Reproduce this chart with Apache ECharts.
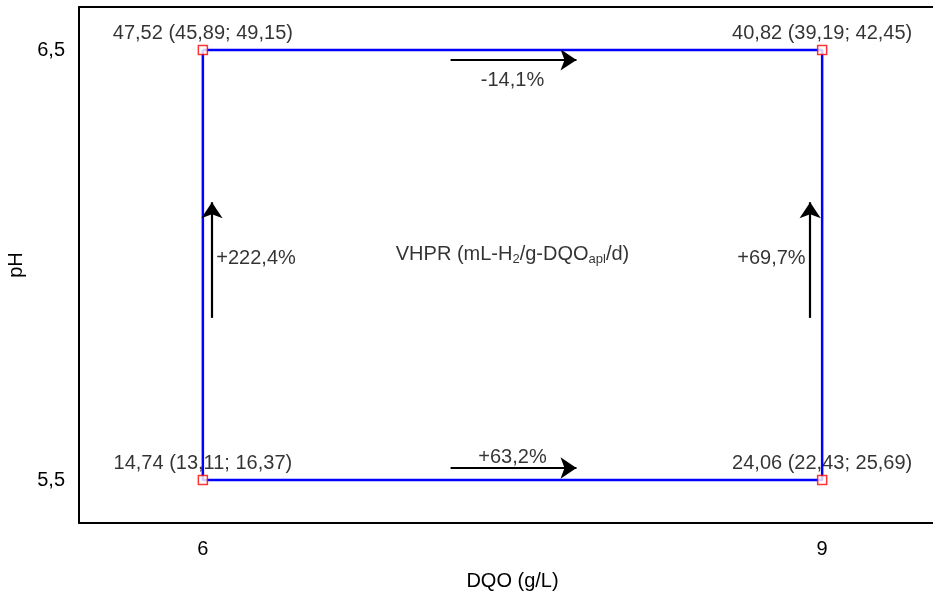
<!DOCTYPE html>
<html>
<head>
<meta charset="utf-8">
<script src="https://cdn.jsdelivr.net/npm/echarts@6/dist/echarts.min.js"></script>
<style>html,body{margin:0;padding:0;background:#fff;overflow:hidden;width:933px;height:594px}#c{width:980px;height:594px}</style>
</head>
<body>
<div id="c"></div>
<script>
// Data
const dqo = [6, 9, 9, 6];
const ph = [6.5, 6.5, 5.5, 5.5];
const vhpr = [47.52, 40.82, 24.06, 14.74];
const lowerCI = [45.89, 39.19, 22.43, 13.11];
const upperCI = [49.15, 42.45, 25.69, 16.37];
const xTicks = [6, 9];
const yTicks = [5.5, 6.5];
// arrows: [x0, y0, x1, y1] in data units
const arrows = [
  [7.2, 6.477, 7.81, 6.477],
  [7.2, 5.528, 7.81, 5.528],
  [6.044, 5.877, 6.044, 6.146],
  [8.942, 5.877, 8.942, 6.146]
];
const arrowTexts = ['-14,1%', '+63,2%', '+222,4%', '+69,7%'];
const arrowTextPos = [[7.5, 6.43], [7.5, 5.553], [6.065, 6.015], [8.92, 6.015]];

const fmt = v => v.toFixed(2).replace('.', ',');
const fmtTick = v => String(v).replace('.', ',');
const font = 'Liberation Sans, Arial, sans-serif';
const txt = '#000';
const fs = 20;

const pathPts = [0, 1, 2, 3, 0].map(i => [dqo[i], ph[i]]);
const ptData = dqo.map((x, i) => ({
  value: [x, ph[i]],
  label: { formatter: fmt(vhpr[i]) + ' (' + fmt(lowerCI[i]) + '; ' + fmt(upperCI[i]) + ')' }
}));

const frameLine = { show: true, onZero: false, lineStyle: { color: '#000', width: 2 } };

const chart = echarts.init(document.getElementById('c'));
chart.setOption({
  animation: false,
  grid: { left: 79, top: 7, width: 867, height: 516, show: false,
          outerBoundsMode: 'none', containLabel: false },
  xAxis: [{
    type: 'value', min: 5.4, max: 9.6, interval: 0.6, position: 'bottom',
    name: 'DQO (g/L)', nameLocation: 'middle', nameGap: 48,
    nameTextStyle: { fontFamily: font, fontSize: fs, color: txt },
    axisLine: frameLine, axisTick: { show: false }, splitLine: { show: false },
    axisLabel: { customValues: xTicks, formatter: fmtTick, fontFamily: font, fontSize: fs, color: txt, margin: 16 }
  }, {
    type: 'value', min: 5.4, max: 9.6, position: 'top',
    axisLine: frameLine, axisTick: { show: false }, splitLine: { show: false }, axisLabel: { show: false }
  }],
  yAxis: {
    type: 'value', min: 5.4, max: 6.6, interval: 0.6,
    name: 'pH', nameLocation: 'middle', nameGap: 51,
    nameTextStyle: { fontFamily: font, fontSize: fs, color: txt },
    axisLine: frameLine, axisTick: { show: false }, splitLine: { show: false },
    axisLabel: { customValues: yTicks, formatter: fmtTick, fontFamily: font, fontSize: fs, color: txt, margin: 14 }
  },
  series: [
    {
      type: 'line', data: pathPts, symbol: 'none',
      lineStyle: { color: '#0000ff', width: 2.5 }, z: 2
    },
    {
      type: 'lines', coordinateSystem: 'cartesian2d', polyline: false,
      data: arrows.map(a => ({ coords: [[a[0], a[1]], [a[2], a[3]]] })),
      symbol: ['none', 'arrow'], symbolSize: [8, 16],
      lineStyle: { color: '#000', width: 2.2, opacity: 1 }, z: 3
    },
    {
      type: 'scatter', data: ptData, symbol: 'rect', symbolSize: 9,
      itemStyle: { color: '#fff', borderColor: '#ff0000', borderWidth: 1.5 },
      label: { show: true, position: 'top', distance: 1, fontFamily: font, fontSize: fs, color: txt },
      z: 4
    },
    {
      type: 'scatter', symbolSize: 0, silent: true,
      data: arrowTexts.map((t, i) => ({
        value: arrowTextPos[i],
        label: { formatter: t, align: i === 2 ? 'left' : (i === 3 ? 'right' : 'center') }
      })),
      label: { show: true, position: 'inside', fontFamily: font, fontSize: fs, color: txt },
      z: 5
    },
    {
      type: 'scatter', symbolSize: 0, silent: true,
      data: [{ value: [7.5, 6.025] }],
      label: {
        show: true, position: 'inside',
        formatter: '{n|VHPR (mL-H}{s|2}{n|/g-DQO}{s|apl}{n|/d)}',
        rich: {
          n: { fontFamily: font, fontSize: fs, color: txt, lineHeight: 26 },
          s: { fontFamily: font, fontSize: 13, color: txt, lineHeight: 26, padding: [11, 0, 0, 0] }
        }
      },
      z: 5
    }
  ]
});
</script>
</body>
</html>
